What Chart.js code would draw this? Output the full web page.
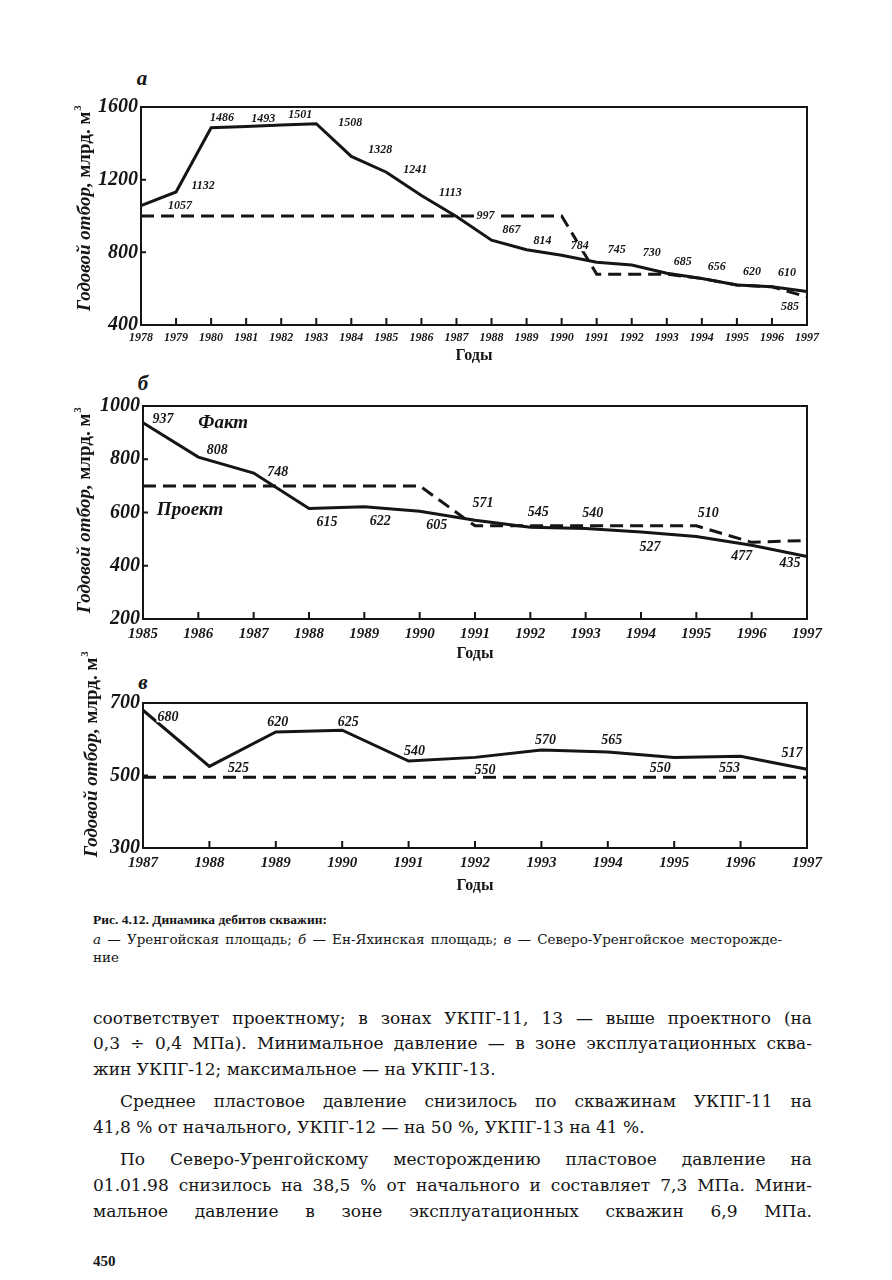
<!DOCTYPE html>
<html>
<head>
<meta charset="utf-8">
<script src="https://cdn.jsdelivr.net/npm/chart.js@4"></script>
<style>
  body { margin: 0; width: 892px; height: 1280px; position: relative; background: #fff; color: #151515; overflow: hidden; }
  .box { position: absolute; left: 0; width: 892px; }
  .tag { position: absolute; font: italic bold 21px "Liberation Serif"; transform: translate(-50%, -50%); }
  .ln { position: absolute; left: 93px; width: 719px; white-space: nowrap; font: 17px "DejaVu Serif"; line-height: 20px; }
  .just { white-space: normal; text-align: justify; text-align-last: justify; }
  .cap { font-size: 13.5px; line-height: 16px; }
</style>
</head>
<body>

<div class="tag" style="left:142px;top:78px">а</div>
<div class="box" style="top:70px;height:300px"><canvas id="chartA"></canvas></div>

<div class="tag" style="left:143px;top:383px">б</div>
<div class="box" style="top:370px;height:295px"><canvas id="chartB"></canvas></div>

<div class="tag" style="left:143px;top:682px">в</div>
<div class="box" style="top:640px;height:260px"><canvas id="chartC"></canvas></div>

<div class="ln cap" style="top:912px;font:bold 13.5px 'Liberation Serif';">Рис. 4.12. Динамика дебитов скважин:</div>
<div class="ln cap just" style="top:931px;width:689px"><i>а</i> — Уренгойская площадь; <i>б</i> — Ен-Яхинская площадь; <i>в</i> — Северо-Уренгойское месторожде-</div>
<div class="ln cap" style="top:949px">ние</div>

<div class="ln just" style="top:1008px">соответствует проектному; в зонах УКПГ-11, 13 — выше проектного (на</div>
<div class="ln just" style="top:1033px">0,3 ÷ 0,4 МПа). Минимальное давление — в зоне эксплуатационных сква-</div>
<div class="ln" style="top:1059px">жин УКПГ-12; максимальное — на УКПГ-13.</div>
<div class="ln just" style="top:1091px;left:120px;width:692px">Среднее пластовое давление снизилось по скважинам УКПГ-11 на</div>
<div class="ln" style="top:1117px">41,8 % от начального, УКПГ-12 — на 50 %, УКПГ-13 на 41 %.</div>
<div class="ln just" style="top:1149px;left:120px;width:692px">По Северо-Уренгойскому месторождению пластовое давление на</div>
<div class="ln just" style="top:1175px">01.01.98 снизилось на 38,5 % от начального и составляет 7,3 МПа. Мини-</div>
<div class="ln just" style="top:1201px">мальное давление в зоне эксплуатационных скважин 6,9 МПа.</div>
<div class="ln" style="top:1253px;font:bold 15px 'Liberation Serif';">450</div>

<script>
// a - Уренгойская площадь
var yearsA = ["1978", "1979", "1980", "1981", "1982", "1983", "1984", "1985", "1986", "1987",
              "1988", "1989", "1990", "1991", "1992", "1993", "1994", "1995", "1996", "1997"];
var factA = [1057, 1132, 1486, 1493, 1501, 1508, 1328, 1241, 1113, 997, 867, 814, 784, 745, 730, 685, 656, 620, 610, 585];
var projectA = [1000, 1000, 1000, 1000, 1000, 1000, 1000, 1000, 1000, 1000, 1000, 1000, 1000, 680, 680, 680, 656, 620, 610, 555];
var ticksA = [400, 800, 1200, 1600];

// б - Ен-Яхинская площадь
var yearsB = ["1985", "1986", "1987", "1988", "1989", "1990", "1991", "1992", "1993", "1994", "1995", "1996", "1997"];
var factB = [937, 808, 748, 615, 622, 605, 571, 545, 540, 527, 510, 477, 435];
var projectB = [700, 700, 700, 700, 700, 700, 550, 550, 550, 550, 550, 488, 495];
var ticksB = [200, 400, 600, 800, 1000];

// в - Северо-Уренгойское месторождение
var yearsC = ["1987", "1988", "1989", "1990", "1991", "1992", "1993", "1994", "1995", "1996", "1997"];
var factC = [680, 525, 620, 625, 540, 550, 570, 565, 550, 553, 517];
var projectC = [495, 495, 495, 495, 495, 495, 495, 495, 495, 495, 495];
var ticksC = [300, 500, 700];

// where each number sits next to its point (px)
var shiftA = [[39, 0], [27, -6], [11, -10], [17, -8], [19, -10], [34, -1], [29, -7], [29, -2], [29, -3], [29, -1],
              [20, -10], [16, -9], [18, -9], [20, -12], [20, -12], [16, -11], [15, -12], [15, -13], [15, -14], [-17, 16]];
var shiftB = [[20, -3], [19, -7], [24, -1], [18, 14], [16, 15], [17, 14], [8, -17], [8, -15], [7, -15], [9, 15], [12, -23], [-10, 11], [-17, 7]];
var shiftC = [[25, 7], [29, 2], [2, -10], [6, -8], [6, -10], [10, 13], [4, -10], [4, -12], [-14, 11], [-11, 12], [-15, -16]];

var INK = "#151515";

// box round the plot and small inward ticks
var frame = {
  id: "frame",
  afterDraw: function (chart) {
    var ctx = chart.ctx, a = chart.chartArea;
    var xs = chart.scales.x, ys = chart.scales.y;
    ctx.save();
    ctx.strokeStyle = INK;
    ctx.lineWidth = 2;
    ctx.strokeRect(a.left, a.top, a.right - a.left, a.bottom - a.top);
    ctx.beginPath();
    for (var i = 1; i < xs.ticks.length - 1; i++) {
      var px = xs.getPixelForTick(i);
      ctx.moveTo(px, a.bottom);
      ctx.lineTo(px, a.bottom - 7);
    }
    for (var j = 1; j < ys.ticks.length - 1; j++) {
      var py = ys.getPixelForTick(j);
      ctx.moveTo(a.left, py);
      ctx.lineTo(a.left + 5, py);
    }
    ctx.stroke();
    ctx.restore();
  }
};

// numbers next to the fact line, plus free text
var tags = {
  id: "tags",
  afterDatasetsDraw: function (chart, args, opts) {
    var ctx = chart.ctx;
    var meta = chart.getDatasetMeta(0);
    var vals = chart.data.datasets[0].data;
    ctx.save();
    ctx.textAlign = "center";
    ctx.textBaseline = "middle";
    ctx.font = opts.font;
    meta.data.forEach(function (pt, i) {
      var s = opts.shifts[i];
      var x = pt.x + s[0], y = pt.y + s[1];
      var w = ctx.measureText(String(vals[i])).width;
      ctx.fillStyle = "#fff";
      ctx.fillRect(x - w / 2 - 1, y - 5, w + 2, 10);
      ctx.fillStyle = INK;
      ctx.fillText(String(vals[i]), x, y);
    });
    (opts.notes || []).forEach(function (n) {
      ctx.font = "italic bold 19px 'Liberation Serif'";
      ctx.fillText(n.text, chart.scales.x.getPixelForValue(n.at), chart.scales.y.getPixelForValue(n.value));
    });
    ctx.restore();
  }
};

// rotated y title: italic part, upright part, superscript
var sideTitle = {
  id: "sideTitle",
  afterDraw: function (chart, args, opts) {
    var ctx = chart.ctx;
    var p1 = "Годовой отбор, ", p2 = "млрд. м";
    var f1 = "italic bold 19px 'Liberation Serif'", f2 = "bold 19px 'Liberation Serif'";
    ctx.save();
    ctx.font = f1;
    var w1 = ctx.measureText(p1).width;
    ctx.font = f2;
    var w2 = ctx.measureText(p2).width;
    var x0 = -(w1 + w2 + 7) / 2;
    ctx.translate(opts.x, opts.y);
    ctx.rotate(-Math.PI / 2);
    ctx.fillStyle = INK;
    ctx.textAlign = "left";
    ctx.textBaseline = "middle";
    ctx.font = f1;
    ctx.fillText(p1, x0, 0);
    ctx.font = f2;
    ctx.fillText(p2, x0 + w1, 0);
    ctx.font = "bold 11px 'Liberation Serif'";
    ctx.fillText("3", x0 + w1 + w2 + 1, -7);
    ctx.restore();
  }
};

function makeChart(id, years, fact, project, ticks, set) {
  return new Chart(document.getElementById(id), {
    type: "line",
    data: {
      labels: years,
      datasets: [
        { data: fact, borderColor: INK, borderWidth: 3, pointRadius: 0, tension: 0, fill: false },
        { data: project, borderColor: INK, borderWidth: 3, borderDash: [13, 7], pointRadius: 0, tension: 0, fill: false }
      ]
    },
    options: {
      responsive: true,
      maintainAspectRatio: false,
      animation: false,
      layout: { padding: { left: 0, right: 85, top: set.top, bottom: set.bottom } },
      plugins: {
        legend: { display: false },
        tooltip: { enabled: false },
        tags: { font: set.tagFont, shifts: set.shifts, notes: set.notes },
        sideTitle: { x: set.titleX, y: set.titleY }
      },
      scales: {
        x: {
          type: "category",
          offset: false,
          grid: { display: false, drawTicks: false },
          border: { display: false },
          ticks: { autoSkip: false, maxRotation: 0, padding: set.xPad, color: INK,
                   font: { family: "Liberation Serif", style: "italic", weight: "bold", size: set.xSize } },
          title: { display: true, text: "Годы", color: INK, padding: 0,
                   font: { family: "Liberation Serif", weight: "bold", size: 16 } },
          afterFit: function (s) { s.height = set.xHeight; }
        },
        y: {
          min: ticks[0],
          max: ticks[ticks.length - 1],
          grid: { display: false, drawTicks: false },
          border: { display: false },
          afterBuildTicks: function (s) { s.ticks = ticks.map(function (v) { return { value: v }; }); },
          ticks: { padding: 3, color: INK,
                   callback: function (v) { return String(v); },
                   font: { family: "Liberation Serif", style: "italic", weight: "bold", size: 20 } },
          afterFit: function (s) { s.width = set.left; }
        }
      }
    },
    plugins: [frame, tags, sideTitle]
  });
}

makeChart("chartA", yearsA, factA, projectA, ticksA, {
  top: 37, bottom: 5, left: 141, xHeight: 40, xPad: 6, xSize: 12,
  tagFont: "italic bold 12px 'Liberation Serif'", shifts: shiftA,
  titleX: 85, titleY: 138
});

makeChart("chartB", yearsB, factB, projectB, ticksB, {
  top: 36, bottom: 2, left: 143, xHeight: 44, xPad: 6, xSize: 15,
  tagFont: "italic bold 14px 'Liberation Serif'", shifts: shiftB,
  notes: [{ text: "Факт", at: 1.45, value: 936 }, { text: "Проект", at: 0.85, value: 609 }],
  titleX: 85, titleY: 140
});

makeChart("chartC", yearsC, factC, projectC, ticksC, {
  top: 63, bottom: 5, left: 143, xHeight: 47, xPad: 6, xSize: 15,
  tagFont: "italic bold 14px 'Liberation Serif'", shifts: shiftC,
  titleX: 92, titleY: 114
});
</script>
</body>
</html>
